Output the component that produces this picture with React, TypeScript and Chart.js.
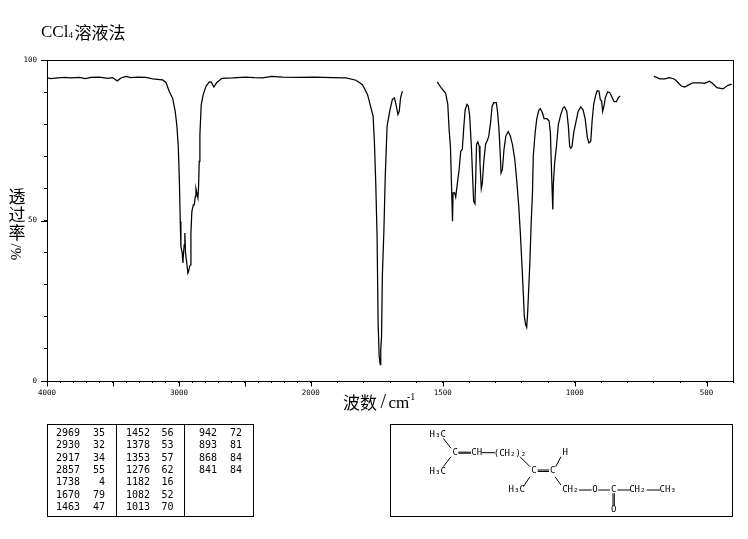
import React, { useEffect, useRef } from "react";
import { Chart, registerables, LinearScale } from "chart.js";

// Spectrum: wavenumber (cm-1) and transmittance (%)
const bandAWavenumber = [4000,3970,3919,3869,3818,3755,3710,3667,3604,3540,3503,3467,3439,3402,3364,3313,3250,3199,3124,3098,3073,3048,3028,3015,3005,2997,2990,2985,2975,2970,2965,2960,2955,2950,2939,2932,2927,2919,2912,2909,2902,2891,2884,2876,2871,2864,2856,2851,2846,2841,2831,2816,2795,2770,2755,2735,2715,2674,2594,2492,2429,2366,2296,2215,2089,1987,1918,1867,1829,1804,1785,1772,1764,1759,1754,1749,1745,1741,1737,1735,1732,1729,1723,1718,1711,1701,1691,1683,1676,1670,1665,1660,1653];
const bandATransmittance = [94.4,94.2,94.4,94.6,94.4,94.6,94.2,94.6,94.7,94.3,94.5,93.5,94.4,94.9,94.5,94.7,94.6,94.1,93.8,93.0,90.2,88.1,84.0,79.3,73.1,63.2,49.7,41.9,39.9,36.8,39.9,42.4,46.1,39.9,36.2,33.6,34.1,35.7,36.2,46.1,52.8,54.9,54.9,57.5,59.9,58.5,57.0,60.6,68.4,76.7,86.0,89.2,91.8,93.2,93.1,91.6,92.9,94.3,94.4,94.7,94.5,94.4,94.9,94.7,94.6,94.7,94.5,94.4,93.7,92.3,89.2,85.0,82.5,74.2,61.7,45.1,18.1,7.7,5.1,9.7,13.9,32.6,47.2,63.8,79.4,84.1,87.7,88.2,85.6,83.0,84.0,88.2,90.3];

const bandBWavenumber = [1521,1505,1489,1481,1476,1471,1466,1463,1461,1455,1451,1446,1438,1432,1426,1420,1415,1408,1403,1398,1391,1386,1383,1378,1375,1372,1367,1362,1359,1354,1350,1345,1338,1331,1326,1319,1313,1307,1297,1292,1287,1283,1279,1274,1268,1261,1252,1244,1236,1227,1220,1212,1206,1199,1194,1191,1186,1182,1179,1176,1170,1165,1160,1157,1150,1144,1136,1130,1122,1116,1105,1097,1092,1088,1086,1083,1081,1076,1069,1062,1053,1044,1038,1030,1024,1019,1015,1010,1004,996,987,977,968,960,952,946,939,934,928,920,914,908,903,898,894,889,884,875,867,859,851,842,835,828];
const bandBTransmittance = [93.2,91.2,89.6,86.2,78.4,73.1,58.6,49.8,58.6,58.6,57.3,60.7,65.9,71.6,72.1,79.4,84.6,86.2,85.6,82.5,72.1,61.7,56.0,55.2,63.8,73.7,74.5,73.2,67.9,59.9,61.7,67.9,73.7,75.0,76.1,80.4,85.6,86.7,86.7,83.5,78.3,72.1,64.8,65.9,72.1,76.3,77.7,76.3,73.7,69.0,62.8,54.4,46.1,34.7,25.9,20.2,17.6,16.7,20.2,25.4,36.8,49.2,58.6,70.0,77.3,81.5,84.4,84.8,83.5,81.7,81.7,81.0,77.3,65.9,60.7,53.4,61.2,67.9,73.2,79.9,83.0,85.1,85.4,84.0,79.4,73.1,72.5,73.1,77.3,80.4,84.0,85.4,84.4,81.5,75.8,74.2,74.7,81.0,86.2,89.2,90.5,90.3,87.7,87.2,84.0,85.6,88.2,90.1,89.8,88.5,87.0,87.0,88.2,88.8];

const bandCWavenumber = [700,687,678,659,640,621,609,596,583,564,552,520,508,489,476,461,438,419,405];
const bandCTransmittance = [94.9,94.5,94.1,94.1,94.5,94.0,93.0,91.9,91.6,92.4,92.9,92.9,92.7,93.4,92.6,91.4,91.0,92.1,92.5];

// Tick labels
const xLabelled = [4000, 3000, 2000, 1500, 1000, 500];
const yLabelled = [0, 50, 100];

// Peak table columns
const peakColA = [["2969","35"],["2930","32"],["2917","34"],["2857","55"],["1738","4"],["1670","79"],["1463","47"]];
const peakColB = [["1452","56"],["1378","53"],["1353","57"],["1276","62"],["1182","16"],["1082","52"],["1013","70"]];
const peakColC = [["942","72"],["893","81"],["868","84"],["841","84"]];

const zip = (xs: number[], ys: number[]) => xs.map((x, i) => ({ x, y: ys[i] }));

// Wavenumber axis whose scale doubles below 2000 cm-1
class WavenumberScale extends LinearScale {
  static id = "wavenumber";
  static defaults = {};
  getPixelForValue(v: number) {
    if (v === null || v === undefined) return NaN;
    const u = v >= 2000 ? 4000 - v : 2000 + (2000 - v) * 2;
    return this.getPixelForDecimal(u / 5200);
  }
  getValueForPixel(p: number) {
    const u = this.getDecimalForPixel(p) * 5200;
    return u <= 2000 ? 4000 - u : 2000 - (u - 2000) / 2;
  }
}
Chart.register(...registerables, WavenumberScale as any);

const SERIF = '"Liberation Serif", serif';
const CJK = '"Noto Sans CJK SC", sans-serif';
const MONO = '"DejaVu Sans Mono", monospace';

const molText: [string, number, number][] = [
  ["H₃C", 437.7, 434.3], ["C", 455.3, 452.7], ["CH", 476.7, 452.7], ["(CH₂)₂", 510, 453.5],
  ["C", 534, 470.7], ["C", 552.7, 470.7], ["H", 565.3, 452.7], ["H₃C", 437.7, 471.7],
  ["H₃C", 516.7, 489.7], ["CH₂", 570.3, 489.7], ["O", 595, 489.7], ["C", 613.7, 489.7],
  ["CH₂", 637.3, 489.7], ["CH₃", 667.7, 489.7], ["O", 613.7, 509.3],
];
const molBonds: number[][] = [
  [443.3,438.3,451,448.3],[451,456.7,443.3,466.7],[458.3,452.2,471,452.2],[458.3,453.2,471,453.2],
  [481.7,452.7,495,452.7],[520,456.7,530,466.7],[537.7,470,549,470],[537.7,471.5,549,471.5],
  [555.7,466.7,561,456.7],[555,476.7,561,485],[530,476.7,523.3,486.7],[579,490,591.7,490],
  [598.3,490,610,490],[617.3,490,630,490],[646.7,490,660,490],[613,493.3,613,505.7],[614.3,493.3,614.3,505.7],
];

const decorations = {
  id: "decorations",
  afterDraw(chart: any) {
    const { ctx, chartArea: a, scales } = chart;
    ctx.save();
    ctx.strokeStyle = "#000";
    ctx.fillStyle = "#000";
    ctx.lineWidth = 1;
    const line = (x1: number, y1: number, x2: number, y2: number) => {
      ctx.beginPath(); ctx.moveTo(x1, y1); ctx.lineTo(x2, y2); ctx.stroke();
    };
    // Frame
    ctx.strokeRect(Math.round(a.left) + 0.5, Math.round(a.top) + 0.5, Math.round(a.right - a.left), Math.round(a.bottom - a.top));
    // Longer major ticks
    for (const t of scales.x.ticks) {
      if (t.value % 500 === 0) {
        const p = Math.round(scales.x.getPixelForValue(t.value)) + 0.5;
        line(p, a.bottom, p, a.bottom + 5.5);
      }
    }
    for (const v of yLabelled) {
      const p = Math.round(scales.y.getPixelForValue(v)) + 0.5;
      line(a.left, p, a.left - 6, p);
    }
    ctx.textBaseline = "middle";
    // Title
    ctx.textAlign = "left";
    ctx.font = `17px ${SERIF}`;
    ctx.fillText("CCl", 41, 33);
    ctx.font = `9px ${SERIF}`;
    ctx.fillText("4", 68.5, 36);
    ctx.font = `17px ${CJK}`;
    ctx.fillText("溶液法", 74.5, 33);
    // Axis titles
    ctx.font = `17px ${CJK}`;
    ctx.fillText("波数", 343, 403);
    ctx.font = `20px ${SERIF}`;
    ctx.fillText("/", 380.5, 403);
    ctx.font = `17px ${SERIF}`;
    ctx.fillText("cm", 388.5, 404);
    ctx.font = `10px ${SERIF}`;
    ctx.fillText("-1", 407, 397);
    ctx.textAlign = "center";
    ctx.font = `17px ${CJK}`;
    ctx.fillText("透", 17, 197);
    ctx.fillText("过", 17, 215);
    ctx.fillText("率", 17, 233);
    ctx.save();
    ctx.translate(17, 252);
    ctx.rotate(-Math.PI / 2);
    ctx.font = `15px ${SERIF}`;
    ctx.fillText("%/", 0, 0);
    ctx.restore();
    // Peak table
    ctx.strokeRect(47.5, 424.5, 206, 92);
    line(116.5, 424.5, 116.5, 516.5);
    line(184.5, 424.5, 184.5, 516.5);
    ctx.font = `10px ${MONO}`;
    ctx.textAlign = "right";
    const rowY = (i: number) => 433.3 + i * 12.33;
    const drawCol = (rows: string[][], xa: number, xb: number) => {
      rows.forEach((r, i) => {
        ctx.fillText(r[0], xa, rowY(i));
        ctx.fillText(r[1], xb, rowY(i));
      });
    };
    drawCol(peakColA, 80, 105);
    drawCol(peakColB, 150, 173.5);
    drawCol(peakColC, 217, 242);
    // Structure
    ctx.strokeRect(390.5, 424.5, 342, 92);
    ctx.textAlign = "center";
    ctx.font = `9px ${MONO}`;
    for (const [s, x, y] of molText) ctx.fillText(s, x, y);
    for (const b of molBonds) line(b[0], b[1], b[2], b[3]);
    ctx.restore();
  },
};

export default function App() {
  const ref = useRef<HTMLCanvasElement>(null);
  useEffect(() => {
    const style = { borderColor: "#000", borderWidth: 1.25, pointRadius: 0, tension: 0, fill: false };
    const chart = new Chart(ref.current as HTMLCanvasElement, {
      type: "line",
      data: {
        datasets: [
          { label: "a", data: zip(bandAWavenumber, bandATransmittance), ...style },
          { label: "b", data: zip(bandBWavenumber, bandBTransmittance), ...style },
          { label: "c", data: zip(bandCWavenumber, bandCTransmittance), ...style },
        ],
      },
      options: {
        animation: false,
        responsive: false,
        devicePixelRatio: 1,
        layout: { padding: { top: 60, right: 15, left: 0, bottom: 0 } },
        plugins: { legend: { display: false }, tooltip: { enabled: false }, title: { display: false } },
        scales: {
          x: {
            type: "wavenumber",
            min: 400,
            max: 4000,
            afterBuildTicks(axis: any) {
              const list = [];
              for (let v = 4000; v >= 400; v -= 100) list.push({ value: v });
              axis.ticks = list;
            },
            afterFit(axis: any) { axis.height = 158; },
            grid: { drawOnChartArea: false, drawTicks: true, tickLength: 2, tickColor: "#000" },
            border: { display: true, color: "#000" },
            ticks: {
              autoSkip: false, maxRotation: 0, minRotation: 0, padding: 6, color: "#000",
              font: { family: "DejaVu Sans Mono", size: 7.5 },
              callback: (v: any) => (xLabelled.includes(Number(v)) ? String(v) : ""),
            },
          } as any,
          y: {
            type: "linear",
            min: 0,
            max: 100,
            afterFit(axis: any) { axis.width = 47; },
            grid: { drawOnChartArea: false, drawTicks: true, tickLength: 3, tickColor: "#000" },
            border: { display: true, color: "#000" },
            ticks: {
              stepSize: 10, autoSkip: false, padding: 7, color: "#000",
              font: { family: "DejaVu Sans Mono", size: 7.5 },
              callback: (v: any) => (yLabelled.includes(Number(v)) ? String(v) : ""),
            },
          },
        },
      } as any,
      plugins: [decorations],
    });
    return () => chart.destroy();
  }, []);
  return <canvas ref={ref} width={748} height={539} style={{ position: "absolute", left: 0, top: 0, display: "block" }} />;
}
